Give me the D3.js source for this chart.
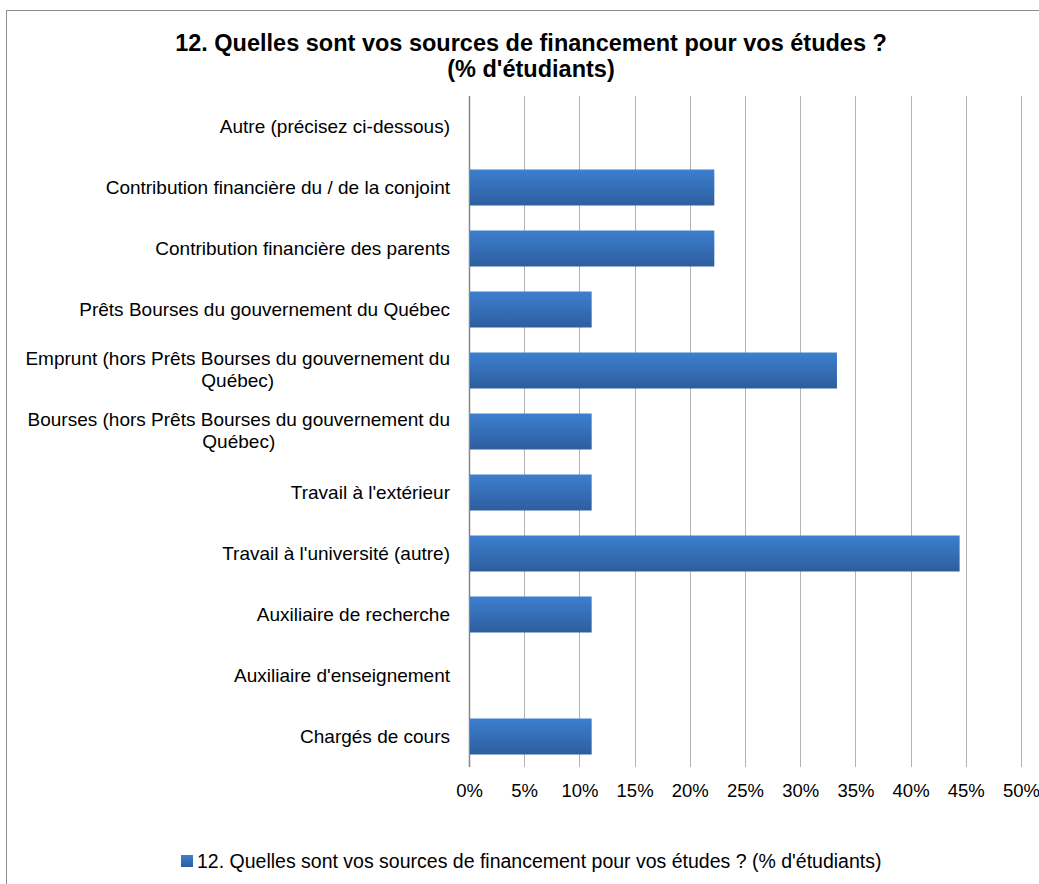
<!DOCTYPE html>
<html>
<head>
<meta charset="utf-8">
<script src="https://cdn.jsdelivr.net/npm/d3@7"></script>
<style>
  body { margin: 0; background: #fff; }
  text { font-family: "Liberation Sans", Arial, sans-serif; fill: #000; }
</style>
</head>
<body>
<div id="chart"></div>
<script>
// data
var categories = [
  ["Autre (précisez ci-dessous)"],
  ["Contribution financière du / de la conjoint"],
  ["Contribution financière des parents"],
  ["Prêts Bourses du gouvernement du Québec"],
  ["Emprunt (hors Prêts Bourses du gouvernement du", "Québec)"],
  ["Bourses (hors Prêts Bourses du gouvernement du", "Québec)"],
  ["Travail à l'extérieur"],
  ["Travail à l'université (autre)"],
  ["Auxiliaire de recherche"],
  ["Auxiliaire d'enseignement"],
  ["Chargés de cours"]
];
var values = [0, 22.22, 22.22, 11.11, 33.33, 11.11, 11.11, 44.44, 11.11, 0, 11.11];
var ticks = [0, 5, 10, 15, 20, 25, 30, 35, 40, 45, 50];
var titleLines = ["12. Quelles sont vos sources de financement pour vos études ?", "(% d'étudiants)"];
var seriesName = "12. Quelles sont vos sources de financement pour vos études ? (% d'étudiants)";

var W = 1039, H = 884;
var margin = {top: 96, left: 469, right: 18, bottom: 117};
var width = W - margin.left - margin.right,
    height = H - margin.top - margin.bottom;

var svg = d3.select("#chart")
  .append("svg")
    .attr("width", W)
    .attr("height", H);

// chart border
svg.append("path")
  .attr("d", "M6.5," + H + "V10.5H" + W)
  .attr("fill", "none")
  .attr("stroke", "#8c8c8c")
  .attr("stroke-width", 1);

// gradient for the bars
var grad = svg.append("defs").append("linearGradient")
  .attr("id", "barGrad")
  .attr("x1", 0).attr("y1", 0).attr("x2", 0).attr("y2", 1);
grad.append("stop").attr("offset", "0%").attr("stop-color", "#3d7fcf");
grad.append("stop").attr("offset", "100%").attr("stop-color", "#2d5e9e");

// title
svg.append("text")
  .attr("x", 531)
  .attr("y", 51)
  .attr("text-anchor", "middle")
  .style("font-size", "23.5px")
  .style("font-weight", "bold")
  .selectAll("tspan")
  .data(titleLines)
  .enter().append("tspan")
    .attr("x", 531)
    .attr("dy", function(d, i) { return i ? 26 : 0; })
    .text(function(d) { return d; });

var g = svg.append("g")
  .attr("transform", "translate(" + margin.left + "," + margin.top + ")");

var x = d3.scaleLinear()
  .domain([0, 50])
  .range([0, width]);

var y = d3.scaleBand()
  .domain(d3.range(categories.length))
  .range([0, height])
  .paddingInner(0.41)
  .paddingOuter(0.205);

// vertical gridlines
g.selectAll(".grid")
  .data(ticks)
  .enter().append("line")
    .attr("x1", function(d) { return Math.round(x(d)) + 0.5; })
    .attr("x2", function(d) { return Math.round(x(d)) + 0.5; })
    .attr("y1", 0)
    .attr("y2", height)
    .attr("stroke", function(d) { return d === 0 ? "#868686" : "#b3b3b3"; })
    .attr("stroke-width", function(d) { return d === 0 ? 1.5 : 1; });

// x tick labels
var xAxis = g.append("g")
  .attr("transform", "translate(0," + height + ")")
  .call(d3.axisBottom(x).tickValues(ticks).tickSize(0).tickPadding(17)
    .tickFormat(function(d) { return d + "%"; }));
xAxis.select(".domain").remove();
xAxis.selectAll("text")
  .style("font-size", "18.5px")
  .style("font-family", "'Liberation Sans', Arial, sans-serif")
  .attr("fill", "#000");

// bars
g.selectAll(".bar")
  .data(values)
  .enter().append("rect")
    .attr("x", x(0) + 1)
    .attr("y", function(d, i) { return y(i); })
    .attr("width", function(d) { return Math.max(0, x(d) - x(0) - 1); })
    .attr("height", y.bandwidth())
    .attr("fill", "url(#barGrad)");

// category labels (wrapped lines are centred on the first one)
var labels = g.selectAll(".cat")
  .data(categories)
  .enter().append("text")
    .attr("y", function(d, i) { return y(i) + y.bandwidth() / 2; })
    .style("font-size", "19px");

labels.each(function(lines) {
  var t = d3.select(this);
  if (lines.length === 1) {
    t.append("tspan")
      .attr("x", -19)
      .attr("dy", "0.35em")
      .attr("text-anchor", "end")
      .text(lines[0]);
  } else {
    var first = t.append("tspan")
      .attr("x", -19)
      .attr("dy", "-0.3em")
      .attr("text-anchor", "end")
      .text(lines[0]);
    var len = first.node().getComputedTextLength();
    t.append("tspan")
      .attr("x", -19 - len / 2)
      .attr("dy", "1.15em")
      .attr("text-anchor", "middle")
      .text(lines[1]);
  }
});

// legend
var legend = svg.append("g")
  .attr("transform", "translate(181,855)");
legend.append("rect")
  .attr("width", 12)
  .attr("height", 12)
  .attr("fill", "url(#barGrad)");
legend.append("text")
  .attr("x", 16)
  .attr("y", 6)
  .attr("dy", "0.35em")
  .style("font-size", "19.5px")
  .text(seriesName);
</script>
</body>
</html>
